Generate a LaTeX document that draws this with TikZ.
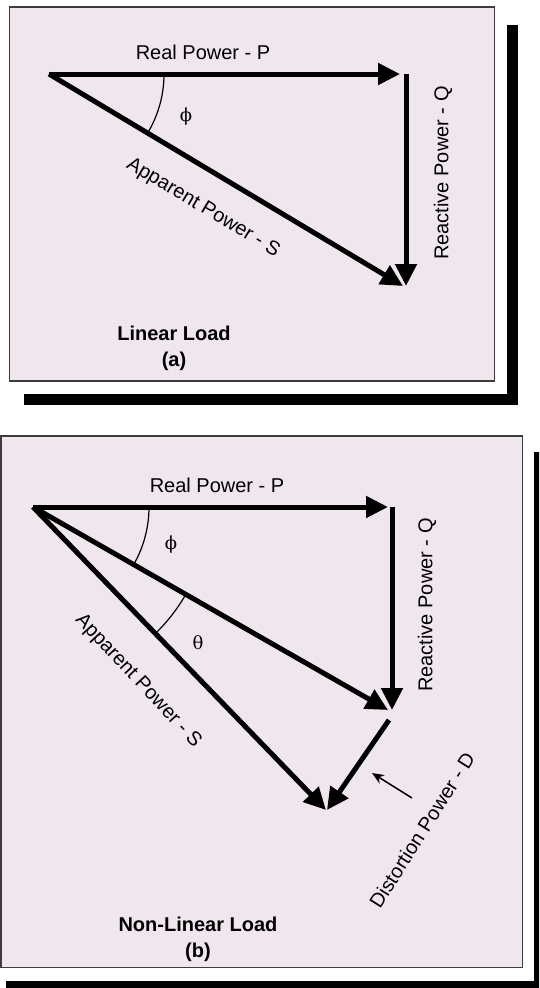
\documentclass[tikz,border=0pt]{standalone}
\usepackage{fontspec}
\setmainfont{Liberation Sans}
\newfontfamily\anglefont{DejaVu Serif}
\usetikzlibrary{arrows.meta}
\definecolor{panelfill}{RGB}{240,230,238}
\definecolor{panelrule}{RGB}{60,60,60}
\begin{document}
\begin{tikzpicture}[x=1pt,y=-1pt,
  panel/.style={fill=panelfill,draw=panelrule,line width=1.5pt},
  shadowline/.style={line width=11pt,line join=miter,line cap=butt},
  vec/.style={line width=5pt,-{Triangle[length=22pt,width=21pt]}},
  anglearc/.style={line width=1.2pt},
  lbl/.style={font=\fontsize{20}{24}\selectfont,inner sep=0pt},
  caption/.style={font=\fontsize{20}{24}\selectfont\bfseries,align=center,inner sep=0pt},
  greek/.style={font=\anglefont\fontsize{18}{22}\selectfont,inner sep=0pt},
  pointer/.style={line width=1.5pt,-{Stealth[length=12pt,width=10pt]}}]
\useasboundingbox (0,0) rectangle (539,988);
\clip (0,0) rectangle (539,988);

% ---------- panel (a): linear load ----------
\draw[shadowline] (512,25) -- (512,399) -- (24,399);
\draw[panel] (9.5,7) rectangle (494.5,381);

\coordinate (Oa) at (49,74);
\coordinate (Pa) at (400,74);
\coordinate (Qa0) at (406,74);
\coordinate (Qa) at (406,286);
\coordinate (Sa) at (403,286);

\draw[vec] (Oa) -- (Pa);
\draw[vec] (Qa0) -- (Qa);
\draw[vec] (Oa) -- (Sa);
\draw[anglearc] ([shift={(0:115)}]Oa) arc[start angle=0,end angle=30.92,radius=115];

\node[lbl] (realA) at (203,52) {Real Power - P};
\node[lbl,rotate=90] (reactA) at (443,173) {Reactive Power - Q};
\node[lbl,rotate=-31] (apparentA) at (203,208) {Apparent Power - S};
\node[greek] (phiA) at (186,117) {ϕ};
\node[caption] (capA) at (174,348) {Linear Load\\[2pt](a)};

% ---------- panel (b): non-linear load ----------
\draw[shadowline] (539.5,452) -- (539.5,986.5) -- (6,986.5);
\draw[panel] (0.75,436) rectangle (522.5,967.5);

\coordinate (Ob) at (33,507);
\coordinate (Pb) at (388,507);
\coordinate (Qb0) at (392,507);
\coordinate (Qb) at (392,710);
\coordinate (Mb) at (388,710);
\coordinate (Db0) at (389,720);
\coordinate (Db) at (327,810);
\coordinate (Sb) at (326,810);
\coordinate (tailB) at (412,798);
\coordinate (tipB) at (372,773);

\draw[vec] (Ob) -- (Pb);
\draw[vec] (Qb0) -- (Qb);
\draw[vec] (Ob) -- (Mb);
\draw[vec] (Ob) -- (Sb);
\draw[vec] (Db0) -- (Db);
\draw[anglearc] ([shift={(0:116)}]Ob) arc[start angle=0,end angle=29.76,radius=116];
\draw[anglearc] ([shift={(29.76:176)}]Ob) arc[start angle=29.76,end angle=45.96,radius=176];
\draw[pointer] (tailB) -- (tipB);

\node[lbl] (realB) at (217,485) {Real Power - P};
\node[lbl,rotate=90] (reactB) at (427,605) {Reactive Power - Q};
\node[lbl,rotate=-47] (apparentB) at (138,681) {Apparent Power - S};
\node[lbl,rotate=57.7] (distortB) at (422,830) {Distortion Power - D};
\node[greek] (phiB) at (171,545) {ϕ};
\node[greek] (thetaB) at (198,643) {θ};
\node[caption] (capB) at (198,939) {Non-Linear Load\\[2pt](b)};
\end{tikzpicture}
\end{document}
